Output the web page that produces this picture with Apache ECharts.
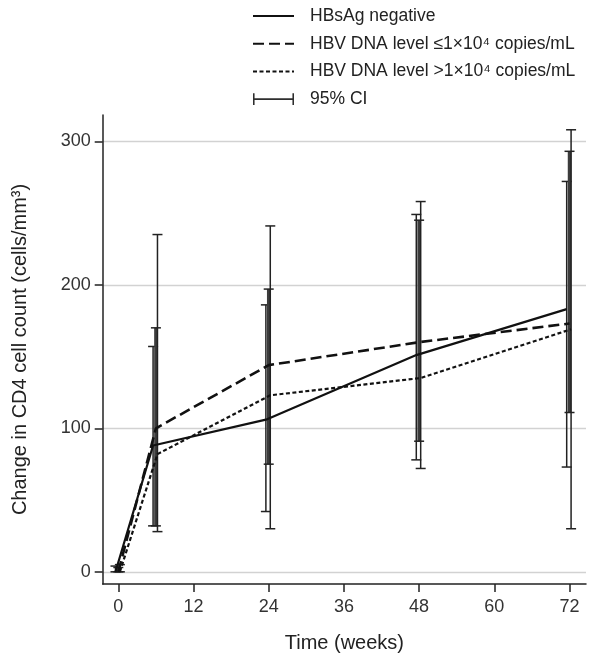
<!DOCTYPE html>
<html>
<head>
<meta charset="utf-8">
<script src="https://cdn.jsdelivr.net/npm/echarts@6/dist/echarts.min.js"></script>
<style>
html,body{margin:0;padding:0;background:#fff;}
#chart{width:603px;height:659px;}
</style>
</head>
<body>
<div id="chart"></div>
<script>
// ---- data ----
const weeks = [0, 6, 24, 48, 72];
const seriesNames = ['HBsAg negative', 'HBV DNA level \u22641\u00d710\u2074 copies/mL', 'HBV DNA level >1\u00d710\u2074 copies/mL'];
const meanNeg = [0, 88, 106, 151, 183];
const meanLow = [0, 100, 144, 160, 173];
const meanHigh = [0, 82, 123, 135, 169];
const ciNegLower = [0, 32, 42, 78, 73];
const ciNegUpper = [4, 157, 186, 249, 272];
const ciLowLower = [0, 32, 75, 91, 111];
const ciLowUpper = [3, 170, 197, 245, 293];
const ciHighLower = [0, 28, 30, 72, 30];
const ciHighUpper = [5, 235, 241, 258, 308];
const xTicks = [0, 12, 24, 36, 48, 60, 72];
const yTicks = [0, 100, 200, 300];

// ---- styling ----
const FONT = "'Liberation Sans', Arial, Helvetica, sans-serif";
const dodge = [-0.45, 0, 0.25];
const ciWidths = [1.5, 3.5, 1.5];
const ciColors = ['#222', '#3c3c3c', '#222'];
const lineStyles = [
  {type: 'solid', width: 2.2},
  {type: [11, 5], width: 2.6},
  {type: [4, 2.5], width: 2.2}
];
const means = [meanNeg, meanLow, meanHigh];
const ciLower = [ciNegLower, ciLowLower, ciHighLower];
const ciUpper = [ciNegUpper, ciLowUpper, ciHighUpper];

function makeErrorBar(width, color) {
  return function (params, api) {
    const x = api.value(0), lo = api.value(1), hi = api.value(2);
    const pLo = api.coord([x, lo]);
    const pHi = api.coord([x, hi]);
    const hw = 5;
    const st = {stroke: color, lineWidth: width};
    const cap = {stroke: '#222', lineWidth: 1.5};
    return {
      type: 'group',
      children: [
        {type: 'line', shape: {x1: pLo[0], y1: pLo[1], x2: pHi[0], y2: pHi[1]}, style: st},
        {type: 'line', shape: {x1: pLo[0] - hw, y1: pLo[1], x2: pLo[0] + hw, y2: pLo[1]}, style: cap},
        {type: 'line', shape: {x1: pHi[0] - hw, y1: pHi[1], x2: pHi[0] + hw, y2: pHi[1]}, style: cap}
      ]
    };
  };
}

const series = [];
for (let s = 0; s < 3; s++) {
  series.push({
    name: '95% CI',
    type: 'custom',
    renderItem: makeErrorBar(ciWidths[s], ciColors[s]),
    z: 1,
    itemStyle: {color: '#2e2e2e'},
    data: weeks.map((w, i) => [w + dodge[s], ciLower[s][i], ciUpper[s][i]]),
    silent: true
  });
}
for (let s = 0; s < 3; s++) {
  series.push({
    name: seriesNames[s],
    type: 'line',
    symbol: 'none',
    z: 3,
    lineStyle: {color: '#111', width: lineStyles[s].width, type: lineStyles[s].type},
    itemStyle: {color: '#111'},
    data: weeks.map((w, i) => [w + dodge[s], means[s][i]])
  });
}

const chart = echarts.init(document.getElementById('chart'), null, {renderer: 'canvas'});
chart.setOption({
  animation: false,
  backgroundColor: '#fff',
  textStyle: {fontFamily: FONT},
  legend: {
    orient: 'vertical',
    left: 247,
    top: 1,
    itemWidth: 41,
    itemHeight: 14,
    itemGap: 7.7,
    padding: 5,
    textStyle: {fontSize: 17.5, color: '#222', fontFamily: FONT, lineHeight: 20, padding: [0, 0, 0, 11]},
    data: [
      {name: seriesNames[0], itemStyle: {opacity: 0}},
      {name: seriesNames[1], itemStyle: {opacity: 0}},
      {name: seriesNames[2], itemStyle: {opacity: 0}},
      {name: '95% CI', icon: 'path://M0,0h1.6v12h-1.6z M0,5.2h42v1.6h-42z M40.4,0h1.6v12h-1.6z', itemStyle: {color: '#2e2e2e'}}
    ]
  },
  grid: {left: 102.7, right: 17, top: 115, bottom: 75, containLabel: false},
  xAxis: {
    type: 'value',
    min: -2.49,
    max: 74.63,
    name: 'Time (weeks)',
    nameLocation: 'middle',
    nameGap: 49,
    nameTextStyle: {fontSize: 20, color: '#222', fontFamily: FONT},
    axisLine: {show: true, onZero: false, lineStyle: {color: '#222', width: 1.5}},
    axisTick: {show: true, length: 8, lineStyle: {color: '#222', width: 1.5}, customValues: xTicks},
    axisLabel: {fontSize: 18, color: '#333', margin: 14, fontFamily: FONT, customValues: xTicks},
    splitLine: {show: false}
  },
  yAxis: {
    type: 'value',
    min: -8.5,
    max: 318.3,
    name: 'Change in CD4 cell count (cells/mm\u00b3)',
    nameLocation: 'middle',
    nameGap: 72,
    nameTextStyle: {fontSize: 20, color: '#222', fontFamily: FONT},
    axisLine: {show: true, onZero: false, lineStyle: {color: '#222', width: 1.5}},
    axisTick: {show: true, length: 8, lineStyle: {color: '#222', width: 1.5}, customValues: yTicks},
    axisLabel: {fontSize: 18, color: '#333', margin: 12, fontFamily: FONT, customValues: yTicks},
    splitLine: {show: true, lineStyle: {color: '#d2d2d2', width: 1.3}}
  },
  series: series
});
</script>
</body>
</html>
